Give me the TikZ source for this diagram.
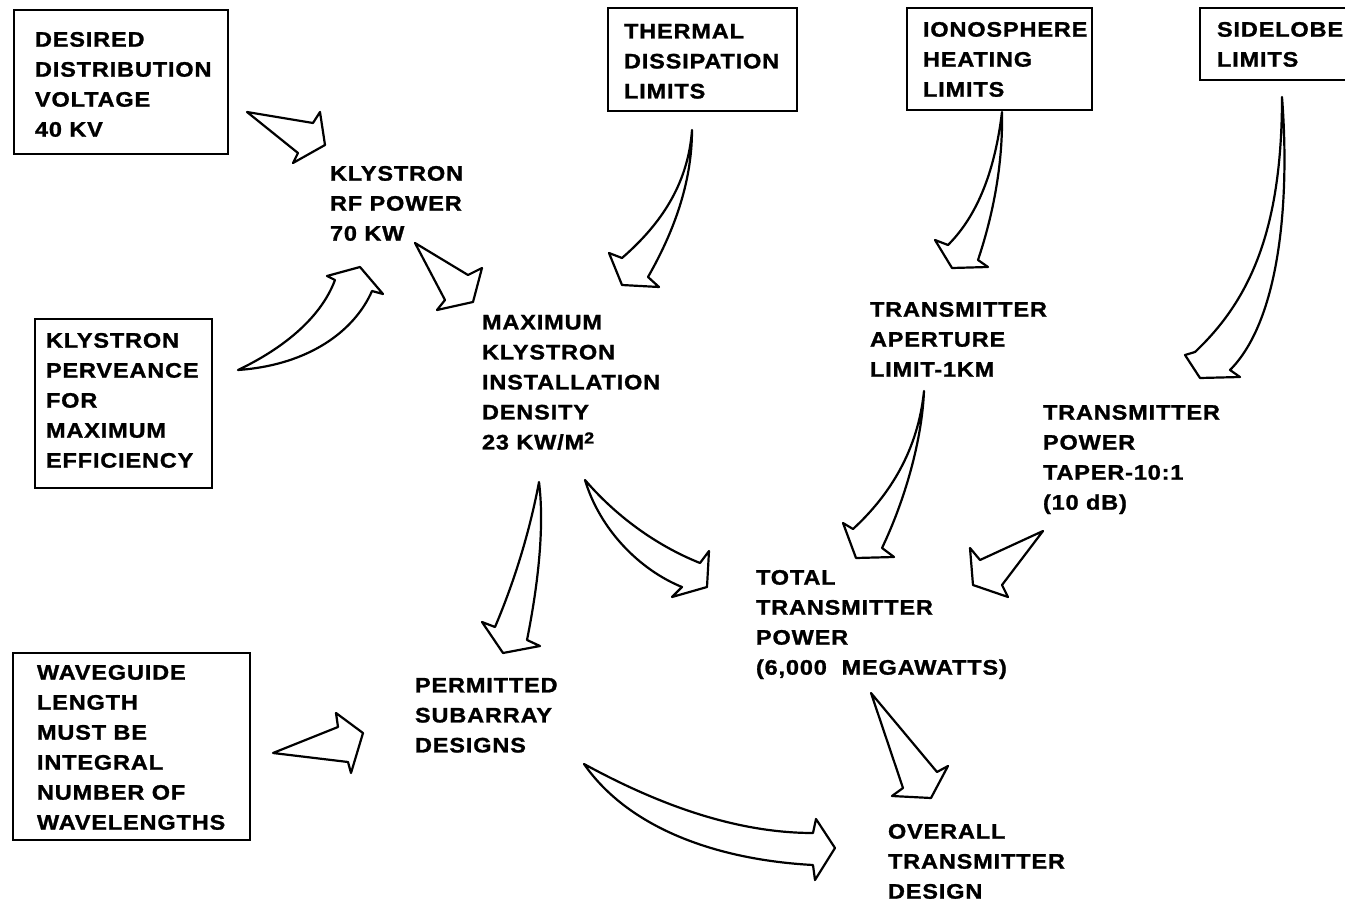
\documentclass[tikz,border=0pt]{standalone}
\usepackage{fontspec}
\newfontfamily\lblfont{Liberation Sans}[FakeStretch=1.12,LetterSpace=4,FakeBold=1.2]
\tikzset{
  lbl/.style={anchor=north west, inner sep=0pt, outer sep=0pt, align=left,
    font=\lblfont\bfseries\fontsize{21}{30}\selectfont},
  boxed/.style={draw, line width=2pt, anchor=north west, inner sep=0pt, outer sep=0pt},
  fat/.style={draw, line width=2.2pt, line join=round, fill=white},
}
\begin{document}
\begin{tikzpicture}[x=1pt,y=-1pt]
\useasboundingbox (0,0) rectangle (1345,902);

% boxes
\node[boxed, minimum width=214pt, minimum height=144pt] (bdv) at (14,10) {};
\node[boxed, minimum width=189pt, minimum height=103pt] (bth) at (608,8) {};
\node[boxed, minimum width=185pt, minimum height=102pt] (bio) at (907,8) {};
\node[boxed, minimum width=150pt, minimum height=72pt] (bsl) at (1200,8) {};
\node[boxed, minimum width=177pt, minimum height=169pt] (bpv) at (35,319) {};
\node[boxed, minimum width=237pt, minimum height=187pt] (bwg) at (13,653) {};

% texts
\node[lbl] (dv) at (35,32) {DESIRED\\DISTRIBUTION\\VOLTAGE\\40 KV};
\node[lbl] (krf) at (330,166) {KLYSTRON\\RF POWER\\70 KW};
\node[lbl] (th) at (624,24) {THERMAL\\DISSIPATION\\LIMITS};
\node[lbl] (io) at (923,22) {IONOSPHERE\\HEATING\\LIMITS};
\node[lbl] (sl) at (1217,22) {SIDELOBE\\LIMITS};
\node[lbl] (pv) at (46,333) {KLYSTRON\\PERVEANCE\\FOR\\MAXIMUM\\EFFICIENCY};
\node[lbl] (mk) at (482,315) {MAXIMUM\\KLYSTRON\\INSTALLATION\\DENSITY\\23 KW/M\raisebox{6pt}{\fontsize{16}{16}\selectfont 2}};
\node[lbl] (ap) at (870,302) {TRANSMITTER\\APERTURE\\LIMIT-1KM};
\node[lbl] (tp) at (1043,405) {TRANSMITTER\\POWER\\TAPER-10:1\\(10 dB)};
\node[lbl] (tt) at (756,570) {TOTAL\\TRANSMITTER\\POWER\\(6,000~ MEGAWATTS)};
\node[lbl] (ps) at (415,678) {PERMITTED\\SUBARRAY\\DESIGNS};
\node[lbl] (wg) at (37,665) {WAVEGUIDE\\LENGTH\\MUST BE\\INTEGRAL\\NUMBER OF\\WAVELENGTHS};
\node[lbl] (ov) at (888,824) {OVERALL\\TRANSMITTER\\DESIGN};

% arrows
% desired voltage -> klystron rf power
\path[fat] (247,112) -- (313,123) -- (320,112) -- (325,145) -- (293,163) -- (298,153) -- cycle;
% perveance -> klystron rf power
\path[fat] (238,370) .. controls (280,350) and (320,320) .. (335,280) -- (327,276) -- (360,267)
  -- (383,294) -- (372,291) .. controls (355,330) and (310,365) .. (238,370) -- cycle;
% klystron rf power -> maximum density
\path[fat] (415,243) -- (468,275) -- (482,268) -- (473,302) -- (437,310) -- (445,300) -- cycle;
% thermal -> maximum density
\path[fat] (692,130) .. controls (688,185) and (660,225) .. (622,258) -- (609,253) -- (622,285)
  -- (659,287) -- (648,277) .. controls (672,235) and (692,185) .. (692,130) -- cycle;
% ionosphere -> aperture
\path[fat] (1002,112) .. controls (995,170) and (978,215) .. (948,245) -- (935,240) -- (952,268)
  -- (988,267) -- (978,260) .. controls (993,215) and (1003,165) .. (1002,112) -- cycle;
% sidelobe -> taper
\path[fat] (1282,97) .. controls (1282,230) and (1250,300) .. (1195,352) -- (1185,355) -- (1200,378)
  -- (1240,377) -- (1230,370) .. controls (1280,320) and (1290,200) .. (1282,97) -- cycle;
% maximum density -> permitted subarray
\path[fat] (539,482) .. controls (530,530) and (515,580) .. (495,627) -- (482,622) -- (503,653)
  -- (540,646) -- (527,640) .. controls (537,590) and (545,530) .. (539,482) -- cycle;
% maximum density -> total power
\path[fat] (585,480) .. controls (615,515) and (655,545) .. (700,563) -- (709,551) -- (707,587)
  -- (672,597) -- (682,587) .. controls (640,570) and (600,530) .. (585,480) -- cycle;
% aperture -> total power
\path[fat] (924,391) .. controls (918,450) and (890,495) .. (853,529) -- (843,523) -- (856,558)
  -- (894,557) -- (882,548) .. controls (905,500) and (922,440) .. (924,391) -- cycle;
% taper -> total power
\path[fat] (1043,531) -- (980,560) -- (970,548) -- (973,585) -- (1008,597) -- (1002,585) -- cycle;
% total power -> overall design
\path[fat] (871,693) -- (937,772) -- (948,766) -- (931,798) -- (892,796) -- (903,788) -- cycle;
% waveguide -> permitted subarray
\path[fat] (273,753) -- (338,727) -- (336,713) -- (363,733) -- (351,773) -- (348,762) -- cycle;
% permitted subarray -> overall design
\path[fat] (584,764) .. controls (650,800) and (730,833) .. (813,833) -- (816,819) -- (835,848)
  -- (815,880) -- (813,865) .. controls (720,860) and (630,830) .. (584,764) -- cycle;
\end{tikzpicture}
\end{document}
